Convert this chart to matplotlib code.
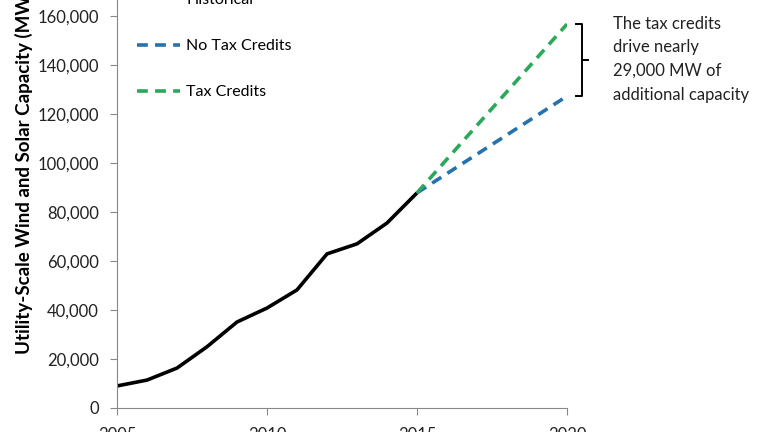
import matplotlib
matplotlib.use('Agg')
import matplotlib.pyplot as plt
import matplotlib.ticker as mtick

# historical capacity (MW)
years_hist = [2005, 2006, 2007, 2008, 2009, 2010, 2011, 2012, 2013, 2014, 2015]
cap_hist = [9000, 11400, 16300, 25000, 35100, 40800, 48200, 62900, 67000, 75500, 87800]

# projections
years_proj = [2015, 2020]
cap_no_credits = [87800, 127300]
cap_credits = [87800, 156700]

plt.rcParams['font.family'] = ['Lato', 'DejaVu Sans']

fig = plt.figure(figsize=(7.68, 4.32), dpi=100)
# axes runs past the top of the picture, like the cropped original
ax = fig.add_axes([117/768, 1 - 408/432, 450/768, 441/432])

ax.plot(years_hist, cap_hist, color='black', lw=2.6, label='Historical', solid_capstyle='butt')
ax.plot(years_proj, cap_no_credits, color='#2672ae', lw=2.6, ls=(0, (3, 2)), label='No Tax Credits')
ax.plot(years_proj, cap_credits, color='#2ba85a', lw=2.6, ls=(0, (3, 2)), label='Tax Credits')

ax.set_xlim(2005, 2020)
ax.set_ylim(0, 180000)
ax.set_xticks([2005, 2010, 2015, 2020])
ax.set_yticks(range(0, 180001, 20000))
ax.yaxis.set_major_formatter(mtick.StrMethodFormatter('{x:,.0f}'))
ax.tick_params(direction='out', length=5, color='#888888', labelsize=12, labelcolor='#222222')
ax.tick_params(axis='y', pad=8)
ax.tick_params(axis='x', pad=9)
for s in ['top', 'right']:
    ax.spines[s].set_visible(False)
for s in ['left', 'bottom']:
    ax.spines[s].set_color('#888888')

ax.set_ylabel('Utility-Scale Wind and Solar Capacity (MW)', fontsize=13.5, fontweight='bold')
ax.yaxis.set_label_coords(-0.187, 0.535)

leg = ax.legend(loc='upper left', bbox_to_anchor=(0.044, 0.941), frameon=False, borderpad=0,
                borderaxespad=0, fontsize=11.5, labelspacing=2.0, handlelength=2.7,
                handletextpad=0.4)

# bracket + note
bx, by0, by1 = 2020.5, 127300, 156700
ym = (by0 + by1) / 2
ax.plot([bx - 0.2, bx, bx, bx - 0.2], [by1, by1, by0, by0], color='black', lw=1.4, clip_on=False)
ax.plot([bx, bx + 0.2], [ym, ym], color='black', lw=1.4, clip_on=False)
ax.text(2021.53, by1 + 3500, 'The tax credits\ndrive nearly\n29,000 MW of\nadditional capacity',
        fontsize=12, va='top', ha='left', color='#222222', linespacing=1.6)

fig.savefig('out.png', dpi=100)
